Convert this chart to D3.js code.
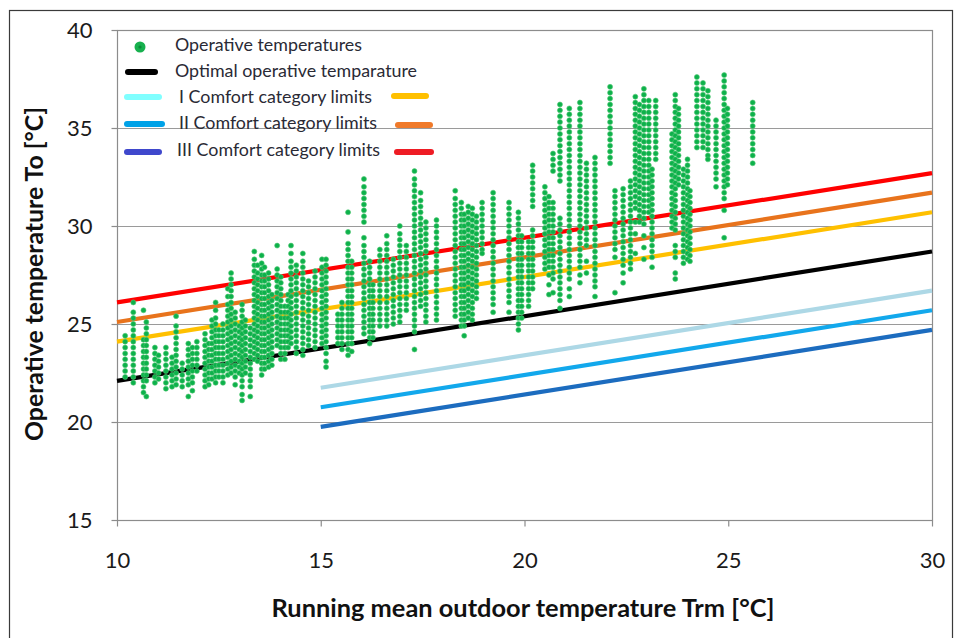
<!DOCTYPE html>
<html><head><meta charset="utf-8">
<script src="https://cdn.jsdelivr.net/npm/d3@7"></script>
<style>
html,body{margin:0;padding:0;background:#fff;}
svg{display:block;font-family:Lato,"Open Sans",sans-serif;}
</style></head>
<body><svg id="chart" width="957" height="638"></svg>
<script>
// ---------- DATA ----------
const xTicks = [10, 15, 20, 25, 30];
const yTicks = [15, 20, 25, 30, 35, 40];
const xTitle = "Running mean outdoor temperature Trm [°C]";
const yTitle = "Operative temperature To [°C]";

// comfort lines: [Trm, To] endpoints
const optimalLine = [[10, 22.1], [30, 28.7]];
const upperI   = [[10, 24.1], [30, 30.7]];
const upperII  = [[10, 25.1], [30, 31.7]];
const upperIII = [[10, 26.1], [30, 32.7]];
const lowerI   = [[15, 21.75], [30, 26.7]];
const lowerII  = [[15, 20.75], [30, 25.7]];
const lowerIII = [[15, 19.75], [30, 24.7]];

const legendLabels = ["Operative temperatures", "Optimal operative temparature",
  "I Comfort category limits", "II Comfort category limits", "III Comfort category limits"];

// operative temperature observations: [Trm, [To values]]
const operativeTemps = [
 [10.2,[24.4,24.1,23.8,23.5,23.2,22.9,22.6,22.3]],
 [10.4,[26.1,25.6,25.3,25.0,24.7,24.4,24.1,23.8,23.5,23.2,22.9,22.6,22.3,22.0]],
 [10.65,[25.7,24.2,23.9,23.6,23.3,23.0,22.7,22.4,22.1,21.8,21.5]],
 [10.72,[25.1,24.8,24.5,24.2,23.9,23.6,23.3,23.0,22.7,22.4,22.1,21.3]],
 [10.93,[23.8,23.5,23.2,22.9,22.6,22.3,22.0]],
 [11.02,[23.4,23.1,22.8,22.5,22.2]],
 [11.2,[23.8,23.5,23.2,22.9,22.6,22.3,22.0,21.7]],
 [11.35,[23.3,23.0,22.7,22.4,22.1,21.8]],
 [11.45,[25.4,24.9,24.6,24.3,24.0,23.7,23.4,23.1,22.8,22.5,22.2,21.9]],
 [11.6,[23.0,22.7,22.4,22.1,21.8]],
 [11.75,[24.0,23.7,23.4,23.1,22.8,22.5,22.2,21.9,21.3]],
 [11.85,[23.8,23.5,23.2,22.9,22.6,22.3,22.0,21.6]],
 [11.96,[24.1,23.8,23.5,23.2,22.9,22.6]],
 [12.16,[24.5,24.2,23.9,23.6,23.3,23.0,22.7,22.4,22.1,21.8]],
 [12.25,[24.0,23.7,23.4,23.1,22.8,22.5,22.2,21.9]],
 [12.33,[25.2,24.9,24.6,24.3,24.0,23.7,23.4,23.1,22.8,22.5,22.2]],
 [12.42,[26.1,25.7,25.3,25.0,24.7,24.4,24.1,23.8,23.5,23.2,22.9,22.6,22.3,22.0]],
 [12.5,[24.7,24.4,24.1,23.8,23.5,23.2,22.9,22.6,22.3]],
 [12.6,[25.0,24.7,24.4,24.1,23.8,23.5,23.2,22.9,22.6,22.3,22.0]],
 [12.72,[26.8,26.4,26.0,25.7,25.4,25.1,24.8,24.5,24.2,23.9,23.6,23.3,23.0,22.7,22.4]],
 [12.8,[27.6,27.3,27.0,26.7,26.4,26.1,25.8,25.5,25.2,24.9,24.6,24.3,24.0,23.7,23.4,23.1,22.8,22.5]],
 [12.9,[25.6,25.3,25.0,24.7,24.4,24.1,23.8,23.5,23.2,22.9,22.6,22.3,21.9]],
 [13.0,[24.9,24.6,24.3,24.0,23.7,23.4,23.1,22.8,22.5]],
 [13.07,[26.0,25.7,25.4,25.1,24.8,24.5,24.2,23.9,23.6,23.3,23.0,22.7,22.4,22.1,21.8,21.4,21.1]],
 [13.15,[25.2,24.9,24.6,24.3,24.0,23.7,23.4,23.1,22.8,22.5]],
 [13.27,[24.8,24.5,24.2,23.9,23.6,23.3,23.0,22.7,22.4,22.1,21.8,21.3]],
 [13.37,[28.7,28.3,28.0,27.7,27.4,27.1,26.8,26.5,26.2,25.9,25.6,25.3,25.0,24.7,24.4,24.1,23.8,23.5,23.2]],
 [13.45,[28.0,27.6,27.3,27.0,26.7,26.4,26.1,25.8,25.5,25.2,24.9,24.6,24.3,24.0,23.7,23.4,23.1]],
 [13.55,[28.5,28.1,27.8,27.5,27.2,26.9,26.6,26.3,26.0,25.7,25.4,25.1,24.8,24.5,24.2,23.9,23.6,23.3,23.0,22.7,22.4]],
 [13.62,[27.9,27.5,27.2,26.9,26.6,26.3,26.0,25.7,25.4,25.1,24.8,24.5,24.2,23.9,23.6,23.3,23.0,22.7]],
 [13.72,[27.6,27.3,27.0,26.7,26.4,26.1,25.8,25.5,25.2,24.9,24.6,24.3,24.0,23.7,23.4,23.1,22.8]],
 [13.8,[26.5,26.2,25.9,25.6,25.3,25.0,24.7,24.4,24.1,23.8,23.5,23.2,22.9]],
 [13.93,[29.0,27.8,27.5,27.2,26.9,26.6,26.3,26.0,25.7,25.4,25.1,24.8,24.5,24.2,23.9]],
 [14.02,[27.4,27.1,26.8,26.5,26.2,25.9,25.6,25.3,25.0,24.7,24.4,24.1,23.8,23.5,23.2]],
 [14.12,[25.9,25.6,25.3,25.0,24.7,24.4,24.1,23.8,23.5,23.2]],
 [14.2,[26.5,26.2,25.9,25.6,25.3,25.0,24.7,24.4,24.1,23.8]],
 [14.27,[29.0,28.6,28.2,27.9,27.6,27.3,27.0,26.7,26.4,26.1,25.8,25.5,25.2,24.9,24.6,24.3,24.0]],
 [14.4,[28.0,27.7,27.4,27.1,26.8,26.5,26.2,25.9,25.6,25.3,25.0,24.7,24.4,24.1,23.8,23.5]],
 [14.56,[28.6,28.2,27.9,27.6,27.3,27.0,26.7,26.4,26.1,25.8,25.5,25.2,24.9,24.6,24.3,24.0,23.7,23.4]],
 [14.7,[27.2,26.9,26.6,26.3,26.0,25.7,25.4,25.1,24.8,24.5,24.2,23.9]],
 [14.86,[27.7,27.4,27.1,26.8,26.5,26.2,25.9,25.6,25.3,25.0,24.7,24.4,24.1,23.8]],
 [15.03,[28.3,27.9,27.6,27.3,27.0,26.7,26.4,26.1,25.8,25.5,25.2,24.9,24.6,24.3,24.0]],
 [15.13,[28.3,28.0,27.7,27.4,27.1,26.8,26.5,26.2,25.9,25.6,25.3,25.0,24.7,24.4,24.1,23.8,23.5,23.1,22.8]],
 [15.42,[25.5,25.2,24.9,24.6,24.3,24.0]],
 [15.52,[26.1,25.8,25.5,25.2,24.9,24.6,24.3,24.0,23.7]],
 [15.67,[30.7,29.7,29.1,28.8,28.5,28.2,27.9,27.6,27.3,27.0,26.7,26.4,26.1,25.8,25.5,25.2,24.9,24.6,24.3,24.0,23.7,23.4]],
 [15.76,[28.2,27.9,27.6,27.3,27.0,26.7,26.4,26.1,25.8,25.5,25.2,24.9,24.6,24.3,24.0,23.6]],
 [16.06,[32.4,32.0,31.7,31.4,31.1,30.8,30.5,30.2,29.4,29.0,28.7,28.4,28.1,27.8,27.5,27.2,26.9,26.6,26.3,26.0,25.7,25.4,25.1,24.8,24.5]],
 [16.2,[28.2,27.9,27.6,27.3,27.0,26.7,26.4,26.1,25.8,25.5,25.2,24.9,24.6,24.3,24.0]],
 [16.28,[27.0,26.7,26.4,26.1,25.8,25.5,25.2,24.9,24.6,24.3]],
 [16.45,[28.8,28.5,28.2,27.9,27.6,27.3,27.0,26.7,26.4,26.1,25.8,25.5,25.2,24.9]],
 [16.62,[29.5,29.1,28.8,28.5,28.2,27.9,27.6,27.3,27.0,26.7,26.4,26.1,25.8,25.5,25.2,24.9]],
 [16.78,[28.3,28.0,27.7,27.4,27.1,26.8,26.5,26.2,25.9,25.6,25.3,25.0]],
 [16.94,[30.0,29.6,29.3,29.0,28.7,28.4,28.1,27.8,27.5,27.2,26.9,26.6,26.3,26.0,25.7,25.4,25.1]],
 [17.1,[29.0,28.7,28.4,28.1,27.8,27.5,27.2,26.9,26.6,26.3,26.0,25.7]],
 [17.3,[32.8,32.4,32.1,31.8,31.5,31.2,30.9,30.6,30.3,30.0,29.7,29.4,29.1,28.8,28.5,28.2,27.9,27.6,27.3,27.0,26.7,26.4,26.1,25.8,25.5,25.2,24.9,24.6,23.7]],
 [17.45,[31.7,31.3,31.0,30.7,30.4,30.1,29.8,29.5,29.2,28.9,28.6,28.3,28.0,27.7,27.4,27.1,26.8,26.5,26.2,25.9]],
 [17.58,[30.2,29.9,29.6,29.3,29.0,28.7,28.4,28.1,27.8,27.5,27.2,26.9,26.6,26.3,26.0,25.7,25.4,25.1]],
 [17.84,[30.3,30.0,29.7,29.4,29.1,28.8,28.5,28.2,27.9,27.6,27.3,27.0,26.7,26.4,26.1,25.8,25.5,25.2]],
 [18.3,[31.8,31.4,31.1,30.8,30.5,30.2,29.9,29.6,29.3,29.0,28.7,28.4,28.1,27.8,27.5,27.2,26.9,26.6,26.3,26.0,25.7,25.4]],
 [18.45,[31.2,30.9,30.6,30.3,30.0,29.7,29.4,29.1,28.8,28.5,28.2,27.9,27.6,27.3,27.0,26.7,26.4,26.1,25.8,25.5,25.2,24.9]],
 [18.52,[30.6,30.3,30.0,29.7,29.4,29.1,28.8,28.5,28.2,27.9,27.6,27.3,27.0,26.7,26.4,26.1,25.8,25.5,25.2,24.9,24.4]],
 [18.62,[31.0,30.7,30.4,30.1,29.8,29.5,29.2,28.9,28.6,28.3,28.0,27.7,27.4,27.1,26.8,26.5,26.2,25.9,25.6,25.3]],
 [18.72,[30.9,30.6,30.3,30.0,29.7,29.4,29.1,28.8,28.5,28.2,27.9,27.6,27.3,27.0,26.7,26.4,26.1,25.8,25.5,25.2]],
 [18.82,[30.5,30.2,29.9,29.6,29.3,29.0,28.7,28.4,28.1,27.8,27.5,27.2,26.9,26.6,26.3]],
 [18.96,[31.2,30.9,30.6,30.3,30.0,29.7,29.4,29.1,28.8,28.6]],
 [19.23,[31.7,31.4,31.1,30.8,30.5,30.2,29.9,29.6,29.3,29.0,28.7,28.4,28.1,27.8,27.5,27.2,26.9,26.6,26.3,26.0,25.6]],
 [19.62,[31.2,30.9,30.6,30.3,30.0,29.7,29.4,29.1,28.8,28.5,28.2,27.9,27.6,27.3,27.0,26.7,26.4,26.1,25.6]],
 [19.85,[30.7,30.4,30.1,29.8,29.5,29.2,28.9,28.6,28.3,28.0,27.7,27.4,27.1,26.8,26.5,26.2,25.9,25.6,25.3,25.0,24.7]],
 [19.93,[29.5,29.2,28.9,28.6,28.3,28.0,27.7,27.4,27.1,26.8,26.5,26.2,25.9,25.6,25.3]],
 [20.1,[29.2,28.9,28.6,28.3,28.0,27.7,27.4,27.1,26.8,26.5,26.2,25.9]],
 [20.2,[33.1,32.8,32.5,32.2,31.9,31.6,31.3,31.0,29.8,29.5,29.2,28.9,28.6,28.3,28.0,27.7,27.4,27.1,26.8]],
 [20.5,[32.0,31.7,31.4,31.1,30.8,30.5,30.2,29.9,29.6,29.3,29.0,28.7,28.4,28.1,27.8]],
 [20.6,[31.5,31.2,30.9,30.6,30.3,30.0,29.7,29.4,29.1,28.8,28.5,28.2,27.9,27.5,27.0,26.5]],
 [20.7,[33.7,33.4,33.1,32.8,31.2,30.9,30.6,30.3,30.0,29.7,29.4,29.1,28.8,28.5,28.2,27.9,27.6,27.3,26.6]],
 [20.87,[36.2,35.9,35.6,35.3,35.0,34.7,34.4,34.1,33.8,33.5,33.2,32.9,32.6,32.3,30.4,30.1,29.8,29.5,29.2,28.9,28.6,28.3,28.0,27.7,27.4,27.1,26.8,26.5,26.2,25.8]],
 [21.1,[36.0,35.7,35.4,35.1,34.8,34.5,34.2,33.9,33.6,33.3,33.0,32.7,32.4,32.1,31.8,31.5,31.2,30.9,30.6,30.3,30.0,29.7,29.4,29.1,28.8,28.5,28.2,27.9,27.6,27.3,26.8,26.4]],
 [21.36,[36.3,36.0,35.7,35.4,35.1,34.8,34.5,34.2,33.9,33.6,33.3,33.0,32.7,32.4,32.1,31.8,31.5,31.2,30.9,30.6,30.3,30.0,29.7,29.4,29.1,28.8,28.5,28.2,27.9,27.5,27.1]],
 [21.52,[33.2,32.9,32.6,32.3,32.0,31.7,31.4,31.1,30.8,30.5,30.2,29.9,29.6,29.3,29.0,28.2,27.6]],
 [21.73,[33.5,33.2,32.9,32.6,32.3,32.0,31.7,31.4,31.1,30.8,30.5,30.2,29.9,29.6,29.3,29.0,28.7,28.4,28.1,27.8,27.5,27.2,26.9,26.4]],
 [22.1,[37.1,36.8,36.5,36.2,35.9,35.6,35.3,35.0,34.7,34.4,34.1,33.8,33.5,33.2]],
 [22.22,[31.8,31.5,31.2,30.9,30.6,30.3,30.0,29.7,29.4,29.1,28.8,28.4,26.6]],
 [22.42,[31.9,31.6,31.3,31.0,30.7,30.4,30.1,29.8,29.5,29.2,28.9,28.6,28.3,28.0,27.6,27.1]],
 [22.6,[32.3,32.0,31.7,31.4,31.1,30.8,30.5,30.2,29.9,29.6,29.3,29.0,28.7,28.4,28.1,27.8]],
 [22.72,[36.6,36.3,36.0,35.7,35.4,35.1,34.8,34.5,34.2,33.9,33.6,33.3,33.0,32.7,32.4,32.1,31.8,31.5,31.2,30.9,30.2,29.6,28.6]],
 [22.82,[36.2,35.9,35.6,35.3,35.0,34.7,34.4,34.1,33.8,33.5,33.2,32.9,32.6,32.3,32.0,31.7,31.4,31.1,30.8,30.5,30.2]],
 [22.93,[37.0,36.7,36.4,36.1,35.8,35.5,35.2,34.9,34.6,34.3,34.0,33.7,33.4,33.1,32.8,32.5,32.2,31.9,31.6,31.3,31.0,30.7,30.4,30.1,29.5,28.9,28.3]],
 [23.05,[36.4,36.1,35.8,35.5,35.2,34.9,34.6,34.3,34.0,33.7,33.4,33.1,32.8,32.5,32.2,31.9,31.6,31.3,31.0,30.7]],
 [23.13,[32.9,32.6,32.3,32.0,31.7,31.4,31.1,30.8,30.5,30.2,29.9,29.6,29.3,29.0,28.7,28.4,27.9]],
 [23.22,[36.4,36.1,35.8,35.5,35.2,34.9,34.6,34.3,34.0,33.7,33.4]],
 [23.62,[34.7,34.4,34.1,33.8,33.5,33.2,32.9,32.6,32.3,32.0,31.7,31.4,31.1,30.8,30.5,30.2,29.9]],
 [23.7,[36.7,36.4,36.1,35.8,35.5,35.2,34.9,34.6,34.3,34.0,33.7,33.4,33.1,32.8,32.5,32.2,31.9,31.6,31.3,31.0,30.7,30.4,30.1,29.8,29.0,28.7,28.4,27.6,27.3]],
 [23.78,[36.0,35.7,35.4,35.1,34.8,34.5,34.2,33.9,33.6,33.3,33.0,32.7,32.4,32.1]],
 [23.9,[32.9,32.6,32.3,32.0,31.7,31.4,31.1,30.8,30.5,30.2,29.9,29.6,29.3,29.0,28.7,28.4,28.1]],
 [24.0,[33.4,33.1,32.8,32.5,32.2,31.9,31.6,31.3,31.0,30.7,30.4,30.1,29.8,29.5,29.2,28.9,28.6,28.3]],
 [24.06,[31.8,31.5,31.2,30.9,30.6,30.3,30.0,29.7,29.4,29.1,28.8,28.5,28.2]],
 [24.23,[37.6,37.3,37.0,36.7,36.4,36.1,35.8,35.5,35.2,34.9,34.6,34.3,34.0]],
 [24.38,[37.3,37.0,36.7,36.4,36.1,35.8,35.5,35.2,34.9,34.6,34.3,34.0]],
 [24.5,[36.9,36.6,36.3,36.0,35.7,35.4,35.1,34.8,34.5,34.2,33.9,33.6,33.4]],
 [24.7,[35.4,35.1,34.8,34.5,34.2,33.9,33.6,33.3,33.0,32.7,32.4,32.0]],
 [24.9,[37.7,37.4,37.1,36.8,36.5,36.2,35.9,35.6,35.3,35.0,34.7,34.4,34.1,33.8,33.5,33.2,32.9,32.6,32.3,32.0,31.7,31.4,30.8,29.4]],
 [24.98,[36.0,35.7,35.4,35.1,34.8,34.5,34.2,33.9,33.6,33.3,33.0,32.7,32.4,32.1]],
 [25.6,[36.3,36.0,35.7,35.4,35.1,34.8,34.5,34.2,33.9,33.6,33.2]]
];

// ---------- DRAW ----------
const svg = d3.select("#chart");
const M = {left: 117, right: 932, top: 30, bottom: 520};
const x = d3.scaleLinear().domain([10, 30]).range([M.left, M.right]);
const y = d3.scaleLinear().domain([15, 40]).range([M.bottom, M.top]);

// outer frame
svg.append("rect").attr("x", 9.5).attr("y", 10.5).attr("width", 943).attr("height", 640)
  .attr("fill", "none").attr("stroke", "#3a3a3a").attr("stroke-width", 1.2);

// grid
svg.append("g").selectAll("line").data(yTicks).join("line")
  .attr("x1", M.left).attr("x2", M.right)
  .attr("y1", d => Math.round(y(d)) + 0.5).attr("y2", d => Math.round(y(d)) + 0.5)
  .attr("stroke", "#9a9a9a").attr("stroke-width", 1.2);
// plot border
svg.append("rect").attr("x", M.left + 0.5).attr("y", M.top + 0.5)
  .attr("width", M.right - M.left).attr("height", M.bottom - M.top)
  .attr("fill", "none").attr("stroke", "#8c8c8c").attr("stroke-width", 1.2);

// axes
const yAxis = svg.append("g").attr("transform", `translate(${M.left + 0.5},0)`)
  .call(d3.axisLeft(y).tickValues(yTicks).tickSize(6).tickPadding(19).tickFormat(d3.format("d")));
const xAxis = svg.append("g").attr("transform", `translate(0,${M.bottom + 0.5})`)
  .call(d3.axisBottom(x).tickValues(xTicks).tickSize(6).tickPadding(26).tickFormat(d3.format("d")));
[yAxis, xAxis].forEach(a => {
  a.select(".domain").remove();
  a.selectAll(".tick line").attr("stroke", "#8c8c8c").attr("stroke-width", 1.2);
  a.selectAll(".tick text").attr("fill", "#1a1a1a").style("font-size", "22px")
    .style("font-family", "Lato, 'Open Sans', sans-serif");
});

// comfort lines
const line = d3.line().x(d => x(d[0])).y(d => y(d[1]));
const lines = [
  [lowerI, "#add8e6"], [lowerII, "#12a8ec"], [lowerIII, "#1c6cbf"],
  [optimalLine, "#000000"], [upperI, "#ffc000"], [upperII, "#e8731c"], [upperIII, "#ff0000"]
];
svg.append("g").selectAll("path").data(lines).join("path")
  .attr("d", d => line(d[0])).attr("fill", "none")
  .attr("stroke", d => d[1]).attr("stroke-width", 4.2);

// scatter
const pts = operativeTemps.flatMap(([t, arr]) => arr.map(v => [t, v]));
svg.append("g").selectAll("circle").data(pts).join("circle")
  .attr("cx", d => x(d[0])).attr("cy", d => y(d[1])).attr("r", 2.5)
  .attr("fill", "#0db14b").attr("stroke", "#52c874").attr("stroke-width", 0.6);

// legend
const lg = svg.append("g").style("font-family", "Lato, 'Open Sans', sans-serif");
lg.append("circle").attr("cx", 140).attr("cy", 47).attr("r", 5.5).attr("fill", "#17b04e");
lg.append("circle").attr("cx", 140).attr("cy", 47).attr("r", 1.6).attr("fill", "#0a8a38");
const sw = [
  [128, 155, 72, "#000000"], [127, 159, 97, "#80ffff"], [127, 162, 124, "#00a2e8"], [127, 159, 152, "#3f48cc"],
  [394, 426, 96, "#ffc000"], [398, 430, 125, "#f07a2a"], [397, 431, 152, "#ee1c24"]
];
lg.selectAll("line").data(sw).join("line")
  .attr("x1", d => d[0]).attr("x2", d => d[1]).attr("y1", d => d[2]).attr("y2", d => d[2])
  .attr("stroke", d => d[3]).attr("stroke-width", 6).attr("stroke-linecap", "round");
const lt = [[175, 51], [175, 77], [179, 103], [179, 129], [177, 156]];
const texts = lg.selectAll("text").data(legendLabels).join("text")
  .attr("x", (d, i) => lt[i][0]).attr("y", (d, i) => lt[i][1])
  .attr("fill", "#2a2a35").style("font-size", "15px").text(d => d);
// fit legend font to reference width of first label (187px)
const w0 = texts.node().getComputedTextLength();
texts.style("font-size", (15 * 187 / w0).toFixed(2) + "px");

// axis titles
const xt = svg.append("text").attr("x", 523).attr("y", 617).attr("text-anchor", "middle")
  .style("font-weight", "bold").style("font-size", "21px").attr("fill", "#111").text(xTitle);
const xw = xt.node().getComputedTextLength();
xt.style("font-size", (21 * 503 / xw).toFixed(2) + "px");
const yt = svg.append("text").attr("transform", "translate(43,274) rotate(-90)").attr("text-anchor", "middle")
  .style("font-weight", "bold").style("font-size", "21px").attr("fill", "#111").text(yTitle);
const yw = yt.node().getComputedTextLength();
yt.style("font-size", (21 * 334 / yw).toFixed(2) + "px");
</script>
</body></html>
